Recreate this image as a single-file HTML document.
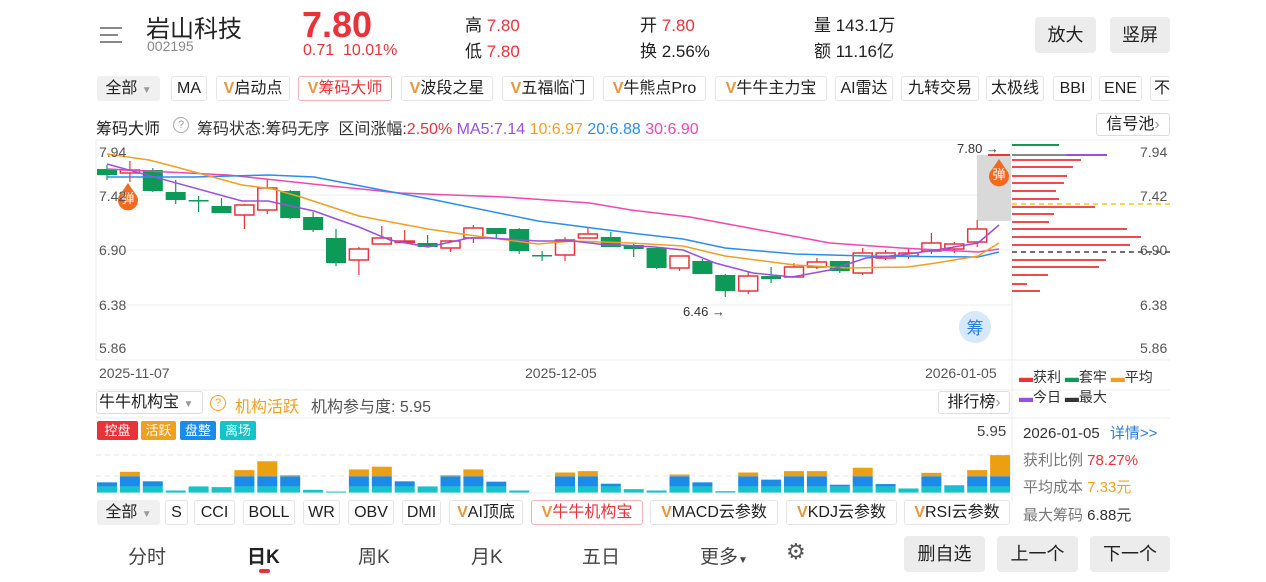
<!DOCTYPE html>
<html><head><meta charset="utf-8">
<style>
*{margin:0;padding:0;box-sizing:border-box}
body{width:1266px;height:582px;background:#fff;position:relative;overflow:hidden;font-family:"Liberation Sans","Noto Sans CJK SC",sans-serif;color:#222}
.a{position:absolute;white-space:nowrap}
.r{color:#e8333b}
.tab{position:absolute;top:76px;height:25px;border:1px solid #e6e6e6;border-radius:3px;font-size:16px;line-height:23px;text-align:center;color:#222;white-space:nowrap}
.tab2{top:500px}
.v{color:#e9963c;font-weight:bold}
.btn{position:absolute;background:#ececec;border-radius:4px;font-size:18px;text-align:center;color:#222}
.tag{position:absolute;top:421px;height:19px;font-size:13px;line-height:19px;color:#fff;text-align:center;border-radius:2px}
</style></head><body>
<div class="a" style="left:100px;top:27px;width:22px;height:2px;background:#888"></div>
<div class="a" style="left:100px;top:34px;width:18px;height:2px;background:#888"></div>
<div class="a" style="left:100px;top:41px;width:22px;height:2px;background:#888"></div>
<div class="a" style="left:146px;top:9px;font-size:24px">岩山科技</div>
<div class="a" style="left:147px;top:38px;font-size:14px;color:#888">002195</div>
<div class="a r" style="left:302px;top:4px;font-size:36px;font-weight:bold">7.80</div>
<div class="a r" style="left:303px;top:42px;font-size:16px">0.71&nbsp;&nbsp;10.01%</div>
<div class="a" style="left:465px;top:11px;font-size:17px">高 <span class="r">7.80</span></div>
<div class="a" style="left:465px;top:37px;font-size:17px">低 <span class="r">7.80</span></div>
<div class="a" style="left:640px;top:11px;font-size:17px">开 <span class="r">7.80</span></div>
<div class="a" style="left:640px;top:37px;font-size:17px">换 2.56%</div>
<div class="a" style="left:814px;top:11px;font-size:17px">量 143.1万</div>
<div class="a" style="left:814px;top:37px;font-size:17px">额 11.16亿</div>
<div class="btn" style="left:1035px;top:17px;width:61px;height:36px;line-height:36px">放大</div>
<div class="btn" style="left:1110px;top:17px;width:60px;height:36px;line-height:36px">竖屏</div>

<div class="tab" style="left:97px;width:63px;background:#f0f0f0;border-color:#f0f0f0">全部 <span style="font-size:10px;color:#999">▼</span></div>
<div class="tab" style="left:171px;width:36px">MA</div>
<div class="tab" style="left:216px;width:74px"><span class="v">V</span>启动点</div>
<div class="tab" style="left:298px;width:94px;border-color:#f3b3b3;color:#e8333b"><span class="v">V</span>筹码大师</div>
<div class="tab" style="left:401px;width:92px"><span class="v">V</span>波段之星</div>
<div class="tab" style="left:502px;width:92px"><span class="v">V</span>五福临门</div>
<div class="tab" style="left:603px;width:103px"><span class="v">V</span>牛熊点Pro</div>
<div class="tab" style="left:715px;width:112px"><span class="v">V</span>牛牛主力宝</div>
<div class="tab" style="left:835px;width:58px">AI雷达</div>
<div class="tab" style="left:901px;width:78px">九转交易</div>
<div class="tab" style="left:986px;width:58px">太极线</div>
<div class="tab" style="left:1053px;width:39px">BBI</div>
<div class="tab" style="left:1099px;width:43px">ENE</div>
<div class="tab" style="left:1150px;width:20px;overflow:hidden;border-right:none;text-align:left;padding-left:3px">不</div>

<div class="a" style="left:96px;top:115px;font-size:16px">筹码大师</div>
<div class="a" style="left:173px;top:117px;width:16px;height:16px;border:1px solid #aaa;border-radius:50%;font-size:11px;line-height:14px;text-align:center;color:#999">?</div>
<div class="a" style="left:197px;top:115px;font-size:16px;color:#333">筹码状态:筹码无序 &nbsp;区间涨幅:<span class="r">2.50%</span> <span style="color:#9b4fe0">MA5:7.14</span> <span style="color:#f0a020">10:6.97</span> <span style="color:#2a8df0">20:6.88</span> <span style="color:#f048b0">30:6.90</span></div>
<div class="a" style="left:1096px;top:113px;width:74px;height:23px;border:1px solid #ddd;border-radius:3px;font-size:16px;line-height:21px;text-align:center">信号池<span style="color:#999">›</span></div>

<svg class="a" style="left:0;top:0" width="1266" height="582" id="svg">
<g stroke="#eee" stroke-width="1">
<line x1="96" y1="140" x2="1170" y2="140"/>
<line x1="96" y1="195" x2="1012" y2="195"/>
<line x1="96" y1="250" x2="1012" y2="250"/>
<line x1="96" y1="305" x2="1012" y2="305"/>
<line x1="96" y1="360" x2="1170" y2="360"/>
<line x1="96" y1="140" x2="96" y2="360"/>
<line x1="1012" y1="140" x2="1012" y2="500"/>
<line x1="96" y1="390" x2="1170" y2="390"/>
<line x1="96" y1="418" x2="1170" y2="418"/>
<line x1="96" y1="493" x2="1012" y2="493"/>
</g>
<g stroke="#e6e6e6" stroke-dasharray="5,4"><line x1="96" y1="455" x2="1012" y2="455"/><line x1="96" y1="476" x2="1012" y2="476"/></g>
<rect x="977" y="155" width="34" height="66" fill="#d9d9d9"/>
<g id="cands"></g>
<g fill="none" stroke-width="1.5">
<polyline stroke="#f048b0" points="107,169 228,175 331,186 400,193 504,197 590,203 631,210 690,217 760,230 830,243 901,248 978,252 999,249"/>
<polyline stroke="#2a8df0" points="107,177 193,177 269,175 314,177 366,187 435,200 538,221 631,233 683,239 725,248 795,254 866,256 978,257 999,252"/>
<polyline stroke="#f0a020" points="107,154 149,160 176,167 242,185 273,189 304,198 359,216 428,229 469,235 538,244 573,241 631,243 683,246 725,256 795,265 848,268 908,267 936,263 978,256 999,243"/>
<polyline stroke="#9b4fe0" points="107,164 242,201 268,201 314,211 359,227 390,240 428,247 469,238 490,238 538,241 573,241 607,245 620,245 655,247 683,250 715,263 753,273 792,277 830,270 866,258 901,255 936,250 978,243 999,225"/>
</g>
<line x1="988" y1="155" x2="1010" y2="155" stroke="#e8333b" stroke-width="2"/>
<g id="chips"></g>
<line x1="1012" y1="204" x2="1170" y2="204" stroke="#f5c518" stroke-width="1.5" stroke-dasharray="5,4"/>
<line x1="1012" y1="252" x2="1170" y2="252" stroke="#444" stroke-width="1.5" stroke-dasharray="5,4"/>
<path d="M128 183 Q122 192 119 196 A10 10 0 1 0 137 196 Q134 192 128 183Z" fill="#f06a20"/>
<text x="128" y="203" font-size="13" fill="#fff" text-anchor="middle">弹</text>
<path d="M999 159 Q993 168 990 172 A10 10 0 1 0 1008 172 Q1005 168 999 159Z" fill="#f06a20"/>
<text x="999" y="179" font-size="13" fill="#fff" text-anchor="middle">弹</text>
<circle cx="975" cy="327" r="16" fill="#d6e8fb"/>
<text x="975" y="334" font-size="17" fill="#2a7de0" text-anchor="middle">筹</text>
<g id="vols"></g>
</svg>

<div class="a" style="left:99px;top:144px;font-size:14px;color:#555">7.94</div>
<div class="a" style="left:99px;top:188px;font-size:14px;color:#555">7.42</div>
<div class="a" style="left:99px;top:242px;font-size:14px;color:#555">6.90</div>
<div class="a" style="left:99px;top:297px;font-size:14px;color:#555">6.38</div>
<div class="a" style="left:99px;top:340px;font-size:14px;color:#555">5.86</div>
<div class="a" style="left:1140px;top:144px;font-size:14px;color:#555">7.94</div>
<div class="a" style="left:1140px;top:188px;font-size:14px;color:#555">7.42</div>
<div class="a" style="left:1140px;top:242px;font-size:14px;color:#555">6.90</div>
<div class="a" style="left:1140px;top:297px;font-size:14px;color:#555">6.38</div>
<div class="a" style="left:1140px;top:340px;font-size:14px;color:#555">5.86</div>
<div class="a" style="left:957px;top:141px;font-size:13px;color:#333">7.80 →</div>
<div class="a" style="left:683px;top:304px;font-size:13px;color:#333">6.46 →</div>
<div class="a" style="left:99px;top:365px;font-size:14px;color:#555">2025-11-07</div>
<div class="a" style="left:525px;top:365px;font-size:14px;color:#555">2025-12-05</div>
<div class="a" style="left:925px;top:365px;font-size:14px;color:#555">2026-01-05</div>
<div class="a" style="left:1019px;top:367px;font-size:14px;color:#333"><span class="r">▬</span>获利 <span style="color:#0c9a56">▬</span>套牢 <span style="color:#f0a020">▬</span>平均</div>
<div class="a" style="left:1019px;top:387px;font-size:14px;color:#333"><span style="color:#9b4fe0">▬</span>今日 <span style="color:#333">▬</span>最大</div>

<div class="a" style="left:96px;top:391px;width:107px;height:23px;border:1px solid #ddd;border-radius:3px;font-size:16px;line-height:21px;padding-left:2px">牛牛机构宝 <span style="font-size:10px;color:#999">▼</span></div>
<div class="a" style="left:210px;top:395px;width:16px;height:16px;border:1px solid #f0a020;border-radius:50%;font-size:11px;line-height:14px;text-align:center;color:#f0a020">?</div>
<div class="a" style="left:235px;top:393px;font-size:16px;color:#f0a020">机构活跃</div>
<div class="a" style="left:311px;top:393px;font-size:16px;color:#555">机构参与度: 5.95</div>
<div class="a" style="left:938px;top:391px;width:72px;height:23px;border:1px solid #ddd;border-radius:3px;font-size:16px;line-height:21px;text-align:center">排行榜<span style="color:#999">›</span></div>
<div class="tag" style="left:97px;width:41px;background:#e8333b">控盘</div>
<div class="tag" style="left:141px;width:35px;background:#f0a020">活跃</div>
<div class="tag" style="left:180px;width:36px;background:#1c8be8">盘整</div>
<div class="tag" style="left:220px;width:36px;background:#14c4c8">离场</div>
<div class="a" style="left:977px;top:423px;font-size:15px;color:#444">5.95</div>
<div class="a" style="left:1023px;top:422px;font-size:15px;color:#333">2026-01-05 <span style="color:#2a7de0;margin-left:6px">详情&gt;&gt;</span></div>
<div class="a" style="left:1023px;top:449px;font-size:15px;color:#777">获利比例 <span class="r">78.27%</span></div>
<div class="a" style="left:1023px;top:476px;font-size:15px;color:#777">平均成本 <span style="color:#f0a020">7.33元</span></div>
<div class="a" style="left:1023px;top:504px;font-size:15px;color:#777">最大筹码 <span style="color:#333">6.88元</span></div>

<div class="tab tab2" style="left:97px;width:63px;background:#f0f0f0;border-color:#f0f0f0">全部 <span style="font-size:10px;color:#999">▼</span></div>
<div class="tab tab2" style="left:165px;width:23px">S</div>
<div class="tab tab2" style="left:194px;width:41px">CCI</div>
<div class="tab tab2" style="left:243px;width:52px">BOLL</div>
<div class="tab tab2" style="left:303px;width:37px">WR</div>
<div class="tab tab2" style="left:348px;width:46px">OBV</div>
<div class="tab tab2" style="left:402px;width:39px">DMI</div>
<div class="tab tab2" style="left:449px;width:74px"><span class="v">V</span>AI顶底</div>
<div class="tab tab2" style="left:531px;width:112px;border-color:#f3b3b3;color:#e8333b"><span class="v">V</span>牛牛机构宝</div>
<div class="tab tab2" style="left:650px;width:128px"><span class="v">V</span>MACD云参数</div>
<div class="tab tab2" style="left:786px;width:111px"><span class="v">V</span>KDJ云参数</div>
<div class="tab tab2" style="left:904px;width:106px"><span class="v">V</span>RSI云参数</div>

<div class="a" style="left:128px;top:542px;font-size:19px;color:#444">分时</div>
<div class="a" style="left:247px;top:542px;font-size:19px;font-weight:bold">日K</div>
<div class="a" style="left:259px;top:569px;width:11px;height:4px;border-radius:2px;background:#e8333b"></div>
<div class="a" style="left:358px;top:542px;font-size:19px;color:#444">周K</div>
<div class="a" style="left:471px;top:542px;font-size:19px;color:#444">月K</div>
<div class="a" style="left:582px;top:542px;font-size:19px;color:#444">五日</div>
<div class="a" style="left:700px;top:542px;font-size:19px;color:#444">更多<span style="font-size:10px">▼</span></div>
<div class="a" style="left:786px;top:539px;font-size:22px;color:#555">⚙</div>
<div class="btn" style="left:904px;top:536px;width:81px;height:36px;line-height:36px">删自选</div>
<div class="btn" style="left:997px;top:536px;width:81px;height:36px;line-height:36px">上一个</div>
<div class="btn" style="left:1090px;top:536px;width:80px;height:36px;line-height:36px">下一个</div>

<script>
var NS="http://www.w3.org/2000/svg";
function el(p,t,a){var e=document.createElementNS(NS,t);for(var k in a)e.setAttribute(k,a[k]);p.appendChild(e);return e;}
var C=[[1,169,175,165,180],[0,170,173,161,182],[1,170,191,168,192],[1,192,200,180,204],[2,200,200,196,212],[1,206,213,198,213],[0,205,215,204,229],[0,188,210,179,214],[1,191,218,190,219],[1,217,230,212,232],[1,238,263,229,266],[0,249,260,247,275],[0,238,244,226,244],[0,241,242,230,243],[1,243,247,235,247],[0,241,248,240,252],[0,228,238,225,243],[1,228,234,228,238],[1,229,251,228,254],[3,255,255,251,261],[0,240,255,237,261],[0,234,238,227,238],[1,237,247,232,247],[1,245,249,243,257],[1,248,268,247,269],[0,256,268,256,271],[1,261,274,259,274],[1,275,291,274,297],[0,276,291,272,294],[1,276,279,267,283],[0,267,277,263,277],[0,262,267,258,269],[1,261,271,261,273],[0,253,273,248,275],[0,253,258,250,260],[0,253,256,248,259],[0,243,251,233,254],[0,244,249,242,253],[0,229,242,220,247]];
var g=document.getElementById('cands');
C.forEach(function(c,i){var x=107+22.9*i;var col=(c[0]==0)?'#e8333b':'#0c9a56';
el(g,'line',{x1:x,x2:x,y1:c[3],y2:c[4],stroke:col,'stroke-width':1.2});
if(c[0]==0)el(g,'rect',{x:x-9.5,y:c[1],width:19,height:Math.max(c[2]-c[1],1.5),fill:'#fff',stroke:col,'stroke-width':1.5});
else el(g,'rect',{x:x-10,y:c[1],width:20,height:Math.max(c[2]-c[1],1.5),fill:col});});
var ch=document.getElementById('chips');
el(ch,'line',{x1:1012,x2:1059,y1:145,y2:145,stroke:'#0c9a56','stroke-width':2});
el(ch,'line',{x1:1012,x2:1066,y1:155,y2:155,stroke:'#888','stroke-width':2});
el(ch,'line',{x1:1066,x2:1107,y1:155,y2:155,stroke:'#9b4fe0','stroke-width':2});
[[160,1081],[167,1073],[176,1067],[183,1064],[191,1056],[199,1059],[207,1095],[214,1054],[222,1049],[229,1127],[237,1141],[245,1130],[260,1106],[267,1099],[275,1048],[284,1027],[291,1040]].forEach(function(r){el(ch,'line',{x1:1012,x2:r[1],y1:r[0],y2:r[0],stroke:'#ee4a4f','stroke-width':2});});
function Y(v){return 415+v/2.94;}
var V=[[210,198,0],[210,180,167],[210,195,0],[222,0,0],[210,0,0],[212,0,0],[210,180,162],[210,180,136],[210,180,177],[220,0,0],[225,0,0],[210,180,160],[210,180,152],[210,195,0],[210,0,0],[210,180,177],[210,180,160],[210,196,0],[222,0,0],[228,0,0],[210,180,169],[210,180,165],[210,202,0],[218,0,0],[222,0,0],[210,180,175],[210,198,0],[224,0,0],[210,180,169],[210,190,0],[210,180,165],[210,180,165],[210,205,0],[210,180,155],[210,203,0],[216,0,0],[210,180,170],[210,207,0],[210,180,162],[210,180,118]];
var vg=document.getElementById('vols');var B=Y(228);
V.forEach(function(v,i){var x=97+22.9*i;
el(vg,'rect',{x:x,y:Y(v[0]),width:20,height:B-Y(v[0]),fill:'#14c4c8'});
if(v[1])el(vg,'rect',{x:x,y:Y(v[1]),width:20,height:Y(v[0])-Y(v[1]),fill:'#1c8be8'});
if(v[2])el(vg,'rect',{x:x,y:Y(v[2]),width:20,height:Y(v[1])-Y(v[2]),fill:'#eaa010'});});
</script>
</body></html>
